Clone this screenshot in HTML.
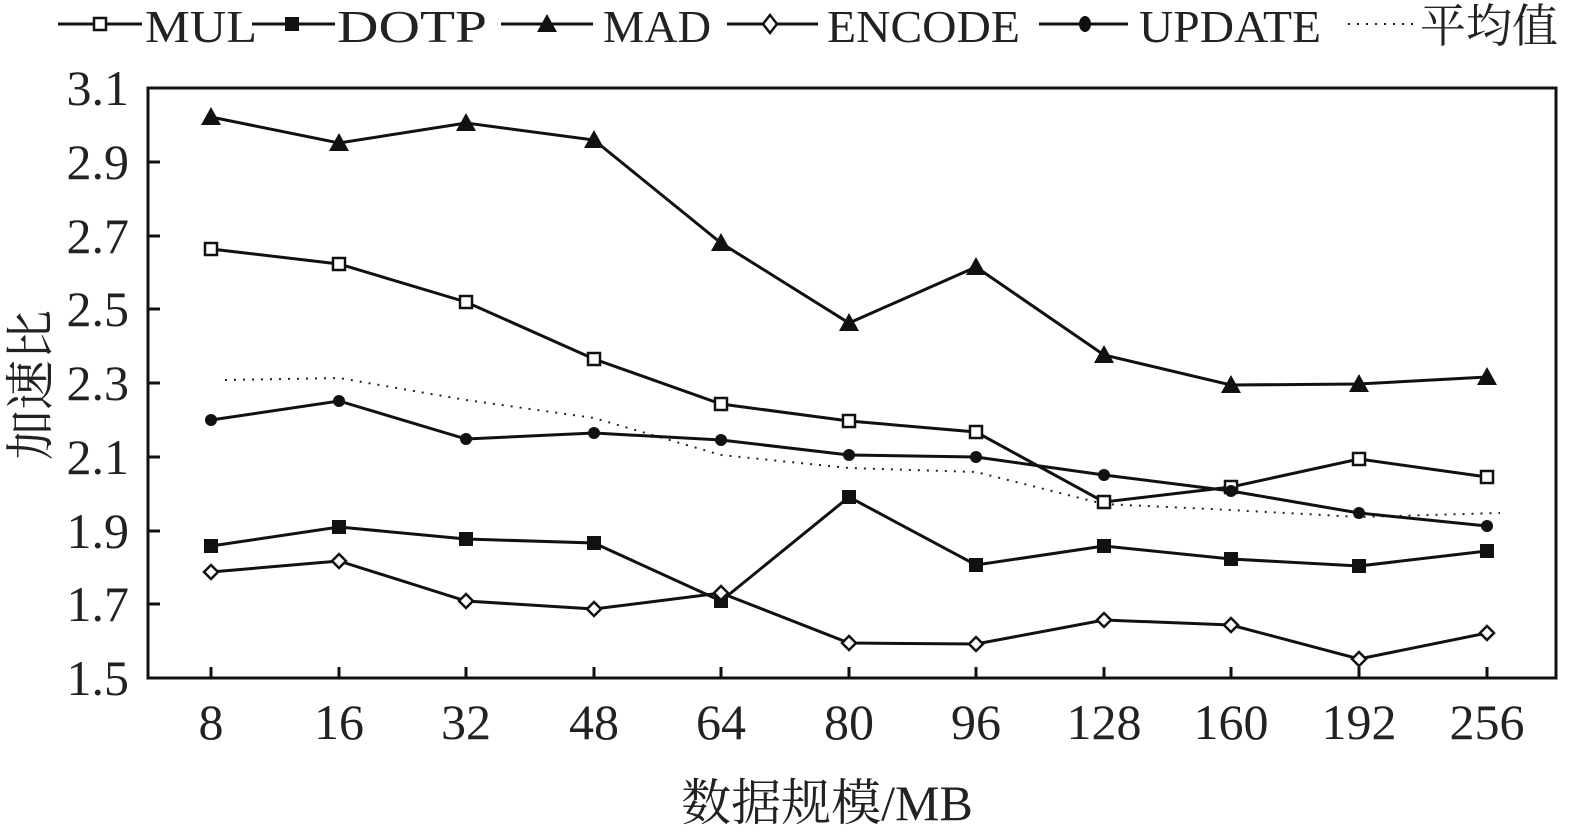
<!DOCTYPE html>
<html><head><meta charset="utf-8"><style>html,body{margin:0;padding:0;background:#fff}svg{display:block}</style></head><body>
<svg width="1575" height="840" viewBox="0 0 1575 840" xmlns="http://www.w3.org/2000/svg" font-family="Liberation Serif, Noto Serif CJK SC, serif" fill="#222">
<rect x="148" y="88" width="1408" height="590" fill="none" stroke="#111" stroke-width="3"/>
<g stroke="#111" stroke-width="3">
<line x1="148" y1="162" x2="160" y2="162"/><line x1="148" y1="236" x2="160" y2="236"/><line x1="148" y1="309" x2="160" y2="309"/><line x1="148" y1="383" x2="160" y2="383"/><line x1="148" y1="457" x2="160" y2="457"/><line x1="148" y1="531" x2="160" y2="531"/><line x1="148" y1="604" x2="160" y2="604"/>
<line x1="211" y1="678" x2="211" y2="667"/><line x1="339" y1="678" x2="339" y2="667"/><line x1="466" y1="678" x2="466" y2="667"/><line x1="594" y1="678" x2="594" y2="667"/><line x1="721" y1="678" x2="721" y2="667"/><line x1="849" y1="678" x2="849" y2="667"/><line x1="976" y1="678" x2="976" y2="667"/><line x1="1104" y1="678" x2="1104" y2="667"/><line x1="1231" y1="678" x2="1231" y2="667"/><line x1="1359" y1="678" x2="1359" y2="667"/><line x1="1487" y1="678" x2="1487" y2="667"/>
</g>
<g font-size="50" text-anchor="end">
<text x="129" y="105">3.1</text><text x="129" y="179">2.9</text><text x="129" y="253">2.7</text><text x="129" y="326">2.5</text><text x="129" y="400">2.3</text><text x="129" y="474">2.1</text><text x="129" y="548">1.9</text><text x="129" y="621">1.7</text><text x="129" y="695">1.5</text>
</g>
<g font-size="50" text-anchor="middle">
<text x="211" y="739">8</text><text x="339" y="739">16</text><text x="466" y="739">32</text><text x="594" y="739">48</text><text x="721" y="739">64</text><text x="849" y="739">80</text><text x="976" y="739">96</text><text x="1104" y="739">128</text><text x="1231" y="739">160</text><text x="1359" y="739">192</text><text x="1487" y="739">256</text>
</g>
<text x="827" y="820" font-size="50" text-anchor="middle">数据规模/MB</text>
<text transform="translate(48,385) rotate(-90)" font-size="50" text-anchor="middle">加速比</text>

<polyline fill="none" stroke="#222" stroke-width="2" stroke-dasharray="2,7" points="225,380 339,378 466,400 594,418 721,455 849,468 976,472 1104,504 1231,510 1359,517 1500,513"/>

<g fill="none" stroke="#111" stroke-width="3">
<polyline points="211,117 339,143 466,123 594,140 721,243 849,323 976,267 1104,355 1231,385 1359,384 1487,377"/>
<polyline points="211,249 339,264 466,302 594,359 721,404 849,421 976,432 1104,502 1231,487 1359,459 1487,477"/>
<polyline points="211,420 339,401 466,439 594,433 721,440 849,455 976,457 1104,475 1231,491 1359,513 1487,526"/>
<polyline points="211,546 339,527 466,539 594,543 721,601 849,497 976,565 1104,546 1231,559 1359,566 1487,551"/>
<polyline points="211,572 339,561 466,601 594,609 721,593 849,643 976,644 1104,620 1231,625 1359,659 1487,633"/>
</g>
<g fill="#111">
<polygon points="211,107 201,125 221,125"/><polygon points="339,133 329,151 349,151"/><polygon points="466,113 456,131 476,131"/><polygon points="594,130 584,148 604,148"/><polygon points="721,233 711,251 731,251"/><polygon points="849,313 839,331 859,331"/><polygon points="976,257 966,275 986,275"/><polygon points="1104,345 1094,363 1114,363"/><polygon points="1231,375 1221,393 1241,393"/><polygon points="1359,374 1349,392 1369,392"/><polygon points="1487,367 1477,385 1497,385"/>
</g>
<g fill="#fff" stroke="#111" stroke-width="2.5">
<rect x="205" y="243" width="12" height="12"/><rect x="333" y="258" width="12" height="12"/><rect x="460" y="296" width="12" height="12"/><rect x="588" y="353" width="12" height="12"/><rect x="715" y="398" width="12" height="12"/><rect x="843" y="415" width="12" height="12"/><rect x="970" y="426" width="12" height="12"/><rect x="1098" y="496" width="12" height="12"/><rect x="1225" y="481" width="12" height="12"/><rect x="1353" y="453" width="12" height="12"/><rect x="1481" y="471" width="12" height="12"/>
</g>
<g fill="#111">
<circle cx="211" cy="420" r="6"/><circle cx="339" cy="401" r="6"/><circle cx="466" cy="439" r="6"/><circle cx="594" cy="433" r="6"/><circle cx="721" cy="440" r="6"/><circle cx="849" cy="455" r="6"/><circle cx="976" cy="457" r="6"/><circle cx="1104" cy="475" r="6"/><circle cx="1231" cy="491" r="6"/><circle cx="1359" cy="513" r="6"/><circle cx="1487" cy="526" r="6"/>
</g>
<g fill="#111">
<rect x="204" y="539" width="14" height="14"/><rect x="332" y="520" width="14" height="14"/><rect x="459" y="532" width="14" height="14"/><rect x="587" y="536" width="14" height="14"/><rect x="714" y="594" width="14" height="14"/><rect x="842" y="490" width="14" height="14"/><rect x="969" y="558" width="14" height="14"/><rect x="1097" y="539" width="14" height="14"/><rect x="1224" y="552" width="14" height="14"/><rect x="1352" y="559" width="14" height="14"/><rect x="1480" y="544" width="14" height="14"/>
</g>
<g fill="#fff" stroke="#111" stroke-width="2.5">
<polygon points="211,565 218,572 211,579 204,572"/><polygon points="339,554 346,561 339,568 332,561"/><polygon points="466,594 473,601 466,608 459,601"/><polygon points="594,602 601,609 594,616 587,609"/><polygon points="721,586 728,593 721,600 714,593"/><polygon points="849,636 856,643 849,650 842,643"/><polygon points="976,637 983,644 976,651 969,644"/><polygon points="1104,613 1111,620 1104,627 1097,620"/><polygon points="1231,618 1238,625 1231,632 1224,625"/><polygon points="1359,652 1366,659 1359,666 1352,659"/><polygon points="1487,626 1494,633 1487,640 1480,633"/>
</g>

<g stroke="#111" stroke-width="3" fill="none">
<line x1="58" y1="24" x2="142" y2="24"/><line x1="252" y1="24" x2="335" y2="24"/><line x1="501" y1="24" x2="593" y2="24"/><line x1="727" y1="24" x2="818" y2="24"/><line x1="1039" y1="24" x2="1128" y2="24"/>
</g>
<line x1="1348" y1="24" x2="1418" y2="24" stroke="#222" stroke-width="2" stroke-dasharray="2,7"/>
<rect x="94" y="18" width="12" height="12" fill="#fff" stroke="#111" stroke-width="2.5"/>
<rect x="285" y="17" width="14" height="14" fill="#111"/>
<polygon points="547,14 537,32 557,32" fill="#111"/>
<polygon points="770,15 777,24 770,33 763,24" fill="#fff" stroke="#111" stroke-width="2.5"/>
<ellipse cx="1085" cy="24" rx="6" ry="8" fill="#111"/>
<g font-size="46">
<text x="145" y="42" textLength="112" lengthAdjust="spacingAndGlyphs">MUL</text><text x="337" y="42" textLength="150" lengthAdjust="spacingAndGlyphs">DOTP</text><text x="603" y="42" textLength="108" lengthAdjust="spacingAndGlyphs">MAD</text><text x="827" y="42" textLength="193" lengthAdjust="spacingAndGlyphs">ENCODE</text><text x="1139" y="42" textLength="182" lengthAdjust="spacingAndGlyphs">UPDATE</text><text x="1420" y="42" font-family="Noto Serif CJK SC, serif">平均值</text>
</g>
</svg>
</body></html>
